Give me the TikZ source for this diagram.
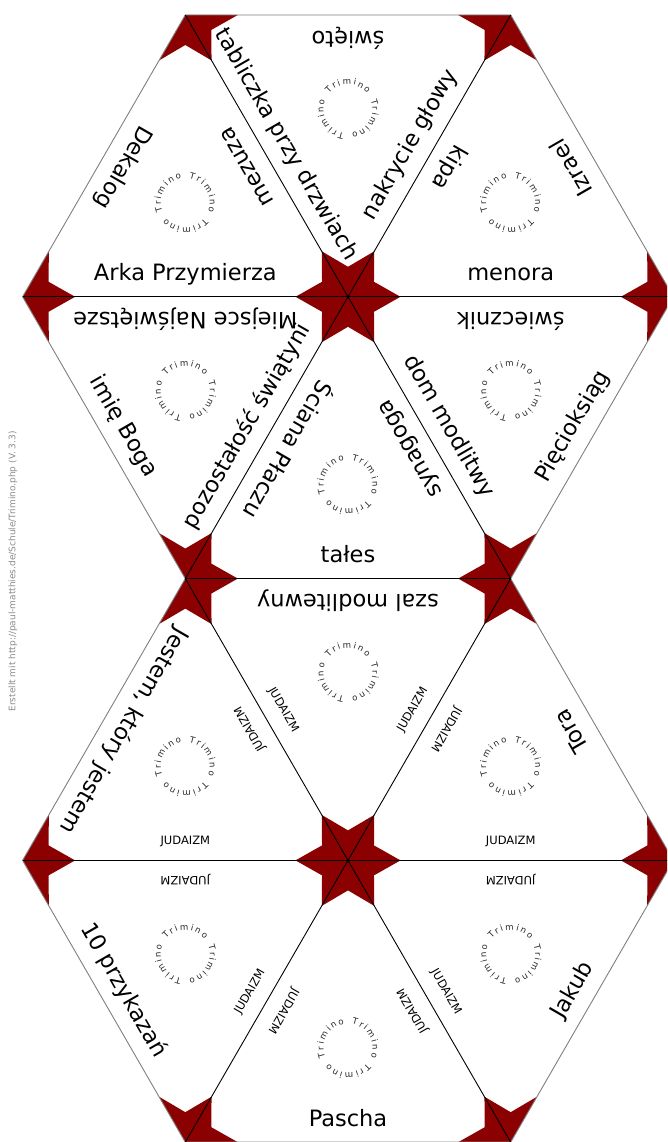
\documentclass[tikz,border=0pt]{standalone}
\usepackage{fontspec}
\setmainfont{DejaVu Sans}
\usetikzlibrary{calc}
\definecolor{tred}{RGB}{139,0,0}
\tikzset{
  redkite/.style={fill=tred},
  inner line/.style={draw=black, line width=0.9pt},
  outer line/.style={draw=black!50, line width=0.9pt, line join=round},
  edge text/.style={font=\fontsize{22.5}{24}\selectfont, anchor=base, inner sep=0pt},
  tri letter/.style={font=\fontsize{8.6}{10}\selectfont, anchor=base, inner sep=0pt, text=black!85},
  footer/.style={font=\fontsize{9}{10}\selectfont, text=black!45, inner sep=0pt, rotate=90}
}
\newcommand\J{{\fontsize{11.5}{12}\selectfont JUDAIZM}}

\newcommand\kites[3]{%
  \coordinate (m) at ($(#2)!0.5!(#3)$);
  \coordinate (g) at ($(#1)!2/3!(m)$);
  \fill[redkite] (#1) -- ($(#1)!52.5pt!(#2)$) -- ($(#1)!30pt!(g)$) -- ($(#1)!52.5pt!(#3)$) -- cycle;
  \fill[redkite] (#2) -- ($(#2)!52.5pt!(#1)$) -- ($(#2)!30pt!(g)$) -- ($(#2)!52.5pt!(#3)$) -- cycle;
  \fill[redkite] (#3) -- ($(#3)!52.5pt!(#1)$) -- ($(#3)!30pt!(g)$) -- ($(#3)!52.5pt!(#2)$) -- cycle;
}

\newcommand\trimword[1]{%
  \foreach \ch/\da in {T/45,r/30.5,i/19.5,m/2.4,i/-14.7,n/-28,o/-45}{%
    \pgfmathsetmacro\tAng{#1+\da}%
    \node[tri letter, rotate=\tAng-90] at ($(g)+(\tAng:24.5)$) {\ch};
  }%
}

\newcommand\tiletext[7]{%
  \coordinate (m) at ($(#2)!0.5!(#3)$);
  \coordinate (g) at ($(#1)!2/3!(m)$);
  \pgfmathsetmacro\nA{#4+180}%
  \pgfmathsetmacro\nB{#4+300}%
  \pgfmathsetmacro\nC{#4+60}%
  \node[edge text, rotate=\nA+90] at ($(g)+(\nA:77.9)$) {#5};
  \node[edge text, rotate=\nB+90] at ($(g)+(\nB:77.9)$) {#6};
  \node[edge text, rotate=\nC+90] at ($(g)+(\nC:77.9)$) {#7};
  \pgfmathsetmacro\wA{#4+60}%
  \pgfmathsetmacro\wB{#4-60}%
  \pgfmathsetmacro\wC{#4+180}%
  \trimword{\wA}\trimword{\wB}\trimword{\wC}%
}

\begin{document}
\begin{tikzpicture}[x=1pt,y=1pt]
  \useasboundingbox (0,0) rectangle (667,1142);
  \fill[white] (0,0) rectangle (667,1142);
  \clip (0,0) rectangle (667,1142);
  % lattice vertices
  \coordinate (a1) at (185.3,1127);   \coordinate (a2) at (510.7,1127);
  \coordinate (b0) at (22.6,845.2);   \coordinate (b1) at (348,845.2);   \coordinate (b2) at (673.4,845.2);
  \coordinate (c1) at (185.3,563.4);  \coordinate (c2) at (510.7,563.4);
  \coordinate (d0) at (22.6,281.6);   \coordinate (d1) at (348,281.6);   \coordinate (d2) at (673.4,281.6);
  \coordinate (e1) at (185.3,-0.2);   \coordinate (e2) at (510.7,-0.2);
  % red corners
  \kites{a1}{b0}{b1}\kites{a1}{a2}{b1}\kites{a2}{b1}{b2}
  \kites{b0}{b1}{c1}\kites{b1}{c1}{c2}\kites{b1}{b2}{c2}
  \kites{c1}{d0}{d1}\kites{c1}{c2}{d1}\kites{c2}{d1}{d2}
  \kites{d0}{d1}{e1}\kites{d1}{e1}{e2}\kites{d1}{d2}{e2}
  % edges
  \draw[outer line] (a1) -- (a2) -- (b2) -- (c2) -- (d2) -- (e2) -- (e1) -- (d0) -- (c1) -- (b0) -- cycle;
  \draw[inner line] (b0) -- (b2);
  \draw[inner line] (c1) -- (c2);
  \draw[inner line] (d0) -- (d2);
  \draw[inner line] (a1) -- (c2);
  \draw[inner line] (c1) -- (e2);
  \draw[inner line] (a2) -- (c1);
  \draw[inner line] (c2) -- (e1);
  % texts
  \tiletext{a1}{b0}{b1}{90}{Arka Przymierza}{mezuza}{Dekalog}
  \tiletext{b1}{a1}{a2}{270}{święto}{tabliczka przy drzwiach}{nakrycie głowy}
  \tiletext{a2}{b1}{b2}{90}{menora}{Izrael}{kipa}
  \tiletext{c1}{b0}{b1}{270}{Miejsce Najświętsze}{imię Boga}{pozostałość świątyni}
  \tiletext{b1}{c1}{c2}{90}{tałes}{synagoga}{Ściana Płaczu}
  \tiletext{c2}{b1}{b2}{270}{świecznik}{dom modlitwy}{Pięcioksiąg}
  \tiletext{c1}{d0}{d1}{90}{\J}{\J}{Jestem, który jestem}
  \tiletext{d1}{c1}{c2}{270}{szal modlitewny}{\J}{\J}
  \tiletext{c2}{d1}{d2}{90}{\J}{Tora}{\J}
  \tiletext{e1}{d0}{d1}{270}{\J}{10 przykazań}{\J}
  \tiletext{d1}{e1}{e2}{90}{Pascha}{\J}{\J}
  \tiletext{e2}{d1}{d2}{270}{\J}{\J}{Jakub}
  \node[footer] (foot) at (13,570.5) {Erstellt mit http://paul-matthies.de/Schule/Trimino.php (V. 3.3)};
\end{tikzpicture}
\end{document}
